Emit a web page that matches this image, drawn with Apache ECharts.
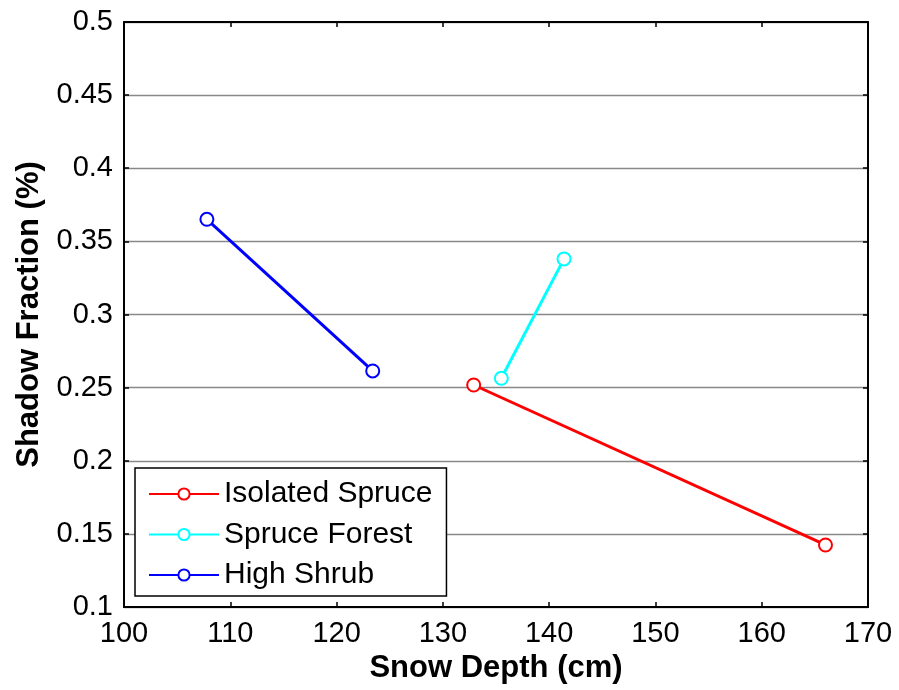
<!DOCTYPE html>
<html>
<head>
<meta charset="utf-8">
<script src="https://cdn.jsdelivr.net/npm/echarts@6/dist/echarts.min.js"></script>
<style>html,body{margin:0;padding:0;background:#fff}#c{width:899px;height:690px}</style>
</head>
<body>
<div id="c"></div>
<script>
const seriesNames = ['Isolated Spruce', 'Spruce Forest', 'High Shrub'];
const seriesColors = ['#ff0000', '#00ffff', '#0000ff'];
const isolatedSpruce = [[132.9, 0.2518], [166.0, 0.1424]];
const spruceForest = [[135.5, 0.2564], [141.4, 0.338]];
const highShrub = [[107.8, 0.3651], [123.4, 0.2614]];
const xTicks = [100, 110, 120, 130, 140, 150, 160, 170];
const yTicks = [0.1, 0.15, 0.2, 0.25, 0.3, 0.35, 0.4, 0.45, 0.5];

const allData = [isolatedSpruce, spruceForest, highShrub];
const font = 'Liberation Sans, Arial, sans-serif';
const chart = echarts.init(document.getElementById('c'));

const axisCommon = {
  axisLine: { show: true, onZero: false, lineStyle: { color: '#000', width: 2 } },
  axisTick: { show: true, inside: true, length: 5, lineStyle: { color: '#000', width: 1.5 } },
};

chart.setOption({
  animation: false,
  backgroundColor: '#fff',
  grid: { left: 124, top: 22, right: 31, bottom: 83, containLabel: false },
  legend: {
    left: 135, top: 468, orient: 'vertical',
    backgroundColor: '#fff', borderColor: '#000', borderWidth: 1.5,
    padding: [11, 14, 6, 13],
    itemWidth: 70, itemHeight: 14, itemGap: 10.5,
    textStyle: { fontFamily: font, fontSize: 30, color: '#000' },
    data: seriesNames
  },
  xAxis: [
    Object.assign({
      type: 'value', min: xTicks[0], max: xTicks[xTicks.length - 1], interval: 10,
      position: 'bottom',
      axisLabel: { fontFamily: font, fontSize: 29, color: '#000', margin: 12 },
      splitLine: { show: false },
      name: 'Snow Depth (cm)', nameLocation: 'middle', nameGap: 45,
      nameTextStyle: { fontFamily: font, fontSize: 31, fontWeight: 'bold', color: '#000' }
    }, axisCommon),
    Object.assign({
      type: 'value', min: xTicks[0], max: xTicks[xTicks.length - 1], interval: 10,
      position: 'top', axisLabel: { show: false }, splitLine: { show: false }
    }, axisCommon)
  ],
  yAxis: [
    Object.assign({
      type: 'value', min: yTicks[0], max: yTicks[yTicks.length - 1], interval: 0.05,
      position: 'left',
      axisLabel: { fontFamily: font, fontSize: 29, color: '#000', margin: 11,
        formatter: v => String(Math.round(v * 100) / 100) },
      splitLine: { show: true, lineStyle: { color: '#888', width: 1.3 } },
      name: 'Shadow Fraction (%)', nameLocation: 'middle', nameGap: 79, nameRotate: 90,
      nameTextStyle: { fontFamily: font, fontSize: 31, fontWeight: 'bold', color: '#000' }
    }, axisCommon),
    Object.assign({
      type: 'value', min: yTicks[0], max: yTicks[yTicks.length - 1], interval: 0.05,
      position: 'right', axisLabel: { show: false }, splitLine: { show: false }
    }, axisCommon)
  ],
  series: seriesNames.map((n, i) => ({
    name: n, type: 'line', data: allData[i],
    symbol: 'emptyCircle', symbolSize: 13,
    lineStyle: { color: seriesColors[i], width: 3 },
    itemStyle: { color: seriesColors[i], borderColor: seriesColors[i], borderWidth: 3 },
    z: 3 - i + 2
  }))
});
</script>
</body>
</html>
